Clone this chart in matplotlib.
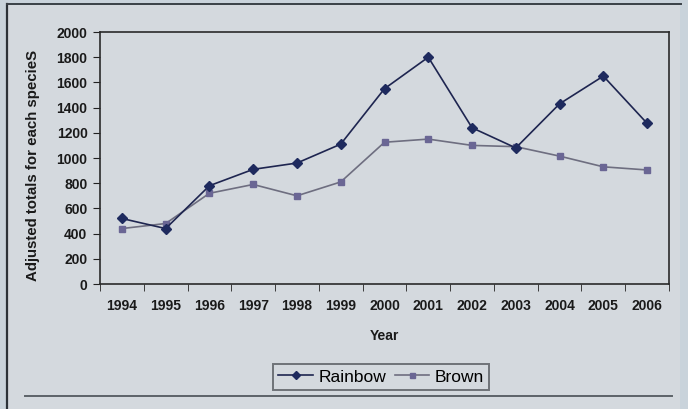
import numpy as np
import matplotlib.pyplot as plt
from matplotlib.lines import Line2D
from matplotlib.patches import Rectangle

years = ['1994', '1995', '1996', '1997', '1998', '1999', '2000',
         '2001', '2002', '2003', '2004', '2005', '2006']
rainbow = [520, 440, 780, 910, 960, 1110, 1550, 1800, 1240, 1080, 1430, 1650, 1275]
brown = [440, 480, 720, 790, 700, 810, 1125, 1150, 1100, 1090, 1015, 930, 905]

plt.rcParams['font.family'] = ['Liberation Sans', 'DejaVu Sans']

bg = '#d4d9de'
fig = plt.figure(figsize=(6.88, 4.09), dpi=100, facecolor='#c9d3db')
W, H = 688, 409

# chart panel and its borders
fig.add_artist(Rectangle((8 / W, 0), 672 / W, 1 - 5 / H, transform=fig.transFigure,
                         facecolor=bg, edgecolor='none', zorder=0))
fig.add_artist(Line2D([7 / W, 7 / W], [0, 1 - 4 / H], transform=fig.transFigure,
                      color='#2c3238', lw=1.6))
fig.add_artist(Line2D([7 / W, 681 / W], [1 - 4 / H, 1 - 4 / H], transform=fig.transFigure,
                      color='#3a4046', lw=1.4))
fig.add_artist(Line2D([25 / W, 672 / W], [1 - 396 / H, 1 - 396 / H], transform=fig.transFigure,
                      color='#5c6268', lw=1.4))

ax = fig.add_axes([100 / W, 1 - 284 / H, 569 / W, 252 / H])
ax.set_facecolor(bg)

x = np.arange(len(years))
ax.plot(x, rainbow, color='#1e2550', lw=1.2, marker='D', ms=5,
        mfc='#1e2a5e', mec='#1e2a5e', label='Rainbow', zorder=3)
ax.plot(x, brown, color='#6e6e80', lw=1.2, marker='s', ms=4.5,
        mfc='#6a6694', mec='#6a6694', label='Brown', zorder=2)

ax.set_xlim(-0.5, len(years) - 0.5)
ax.set_ylim(0, 2000)
ax.set_yticks(np.arange(0, 2001, 200))
ax.set_xticks(x)
ax.set_xticklabels(years)
ax.set_xticks(np.arange(-0.5, len(years)), minor=True)
ax.tick_params(axis='x', which='major', length=0, pad=11)
ax.tick_params(axis='x', which='minor', length=5, direction='out', color='#222')
ax.tick_params(axis='y', length=5, direction='out', color='#222', pad=4)
for lab in ax.get_xticklabels() + ax.get_yticklabels():
    lab.set_fontsize(10)
    lab.set_fontweight('bold')
    lab.set_color('#1a1a1a')
for s in ax.spines.values():
    s.set_color('#2a2a2a')
    s.set_linewidth(1.2)

ax.set_xlabel('Year', fontsize=10, fontweight='bold', labelpad=11, color='#1a1a1a')
ax.set_ylabel('Adjusted totals for each specieS', fontsize=10.8, fontweight='bold',
              color='#1a1a1a')
ax.yaxis.set_label_coords(-0.106, 0.47)

leg = fig.legend(loc='center', bbox_to_anchor=(381 / W, 1 - 377 / H), ncol=2,
                 fontsize=12.5, frameon=True, fancybox=False, handlelength=2.0,
                 handletextpad=0.3, columnspacing=0.5, borderpad=0.3, markerscale=0.8)
leg.get_frame().set_edgecolor('#55595e')
leg.get_frame().set_facecolor(bg)
leg.get_frame().set_linewidth(1.4)

fig.savefig('out.png', dpi=100, facecolor=fig.get_facecolor())
